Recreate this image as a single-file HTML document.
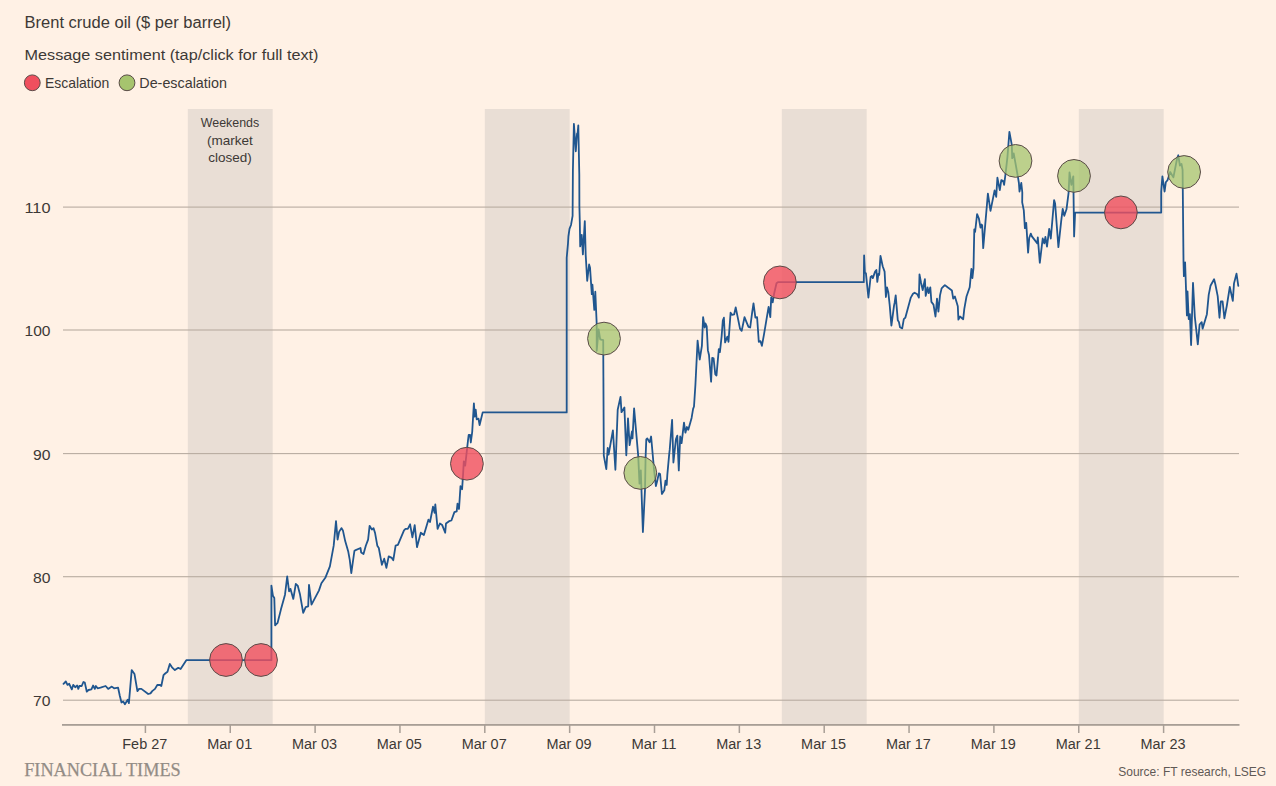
<!DOCTYPE html>
<html><head><meta charset="utf-8"><title>Brent crude oil</title>
<style>
html,body{margin:0;padding:0;background:#fff1e5;}
body{width:1276px;height:786px;overflow:hidden;position:relative;font-family:'Liberation Sans', sans-serif;}
svg{position:absolute;left:0;top:0;display:block;}
</style></head>
<body>
<svg width="1276" height="786" viewBox="0 0 1276 786" font-family="'Liberation Sans', sans-serif">
<rect x="0" y="0" width="1276" height="786" fill="#fff1e5"/>
<text x="24.5" y="27.8" font-size="16" fill="#3d3936" textLength="206.5" lengthAdjust="spacingAndGlyphs">Brent crude oil ($ per barrel)</text>
<text x="24.5" y="60.2" font-size="15.5" fill="#3d3936" textLength="294" lengthAdjust="spacingAndGlyphs">Message sentiment (tap/click for full text)</text>
<circle cx="32.3" cy="82.8" r="7.9" fill="#f04f5e" stroke="#5a4b48" stroke-width="1"/>
<text x="44.9" y="88.4" font-size="14.5" fill="#3d3936" textLength="64.5" lengthAdjust="spacingAndGlyphs">Escalation</text>
<circle cx="127" cy="82.8" r="7.9" fill="#a6c46e" stroke="#5a4b48" stroke-width="1"/>
<text x="139.3" y="88.4" font-size="14.5" fill="#3d3936" textLength="87.6" lengthAdjust="spacingAndGlyphs">De-escalation</text>
<rect x="187.8" y="109" width="84.85" height="615" fill="#e9ded5"/><rect x="484.8" y="109" width="84.85" height="615" fill="#e9ded5"/><rect x="781.8" y="109" width="84.85" height="615" fill="#e9ded5"/><rect x="1078.8" y="109" width="84.85" height="615" fill="#e9ded5"/>
<text x="230" y="127" text-anchor="middle" font-size="13.5" fill="#3d3936" textLength="58.5" lengthAdjust="spacingAndGlyphs">Weekends</text>
<text x="230" y="145" text-anchor="middle" font-size="13.5" fill="#3d3936">(market</text>
<text x="230" y="162.2" text-anchor="middle" font-size="13.5" fill="#3d3936">closed)</text>
<rect x="63" y="699.65" width="1176" height="1.1" fill="#b8aca1"/><rect x="63" y="576.15" width="1176" height="1.1" fill="#b8aca1"/><rect x="63" y="453.05" width="1176" height="1.1" fill="#b8aca1"/><rect x="63" y="329.45" width="1176" height="1.1" fill="#b8aca1"/><rect x="63" y="206.55" width="1176" height="1.1" fill="#b8aca1"/>
<text x="50.5" y="706.1" text-anchor="end" font-size="15.5" fill="#3d3936" textLength="17.5" lengthAdjust="spacingAndGlyphs">70</text><text x="50.5" y="582.6" text-anchor="end" font-size="15.5" fill="#3d3936" textLength="17.5" lengthAdjust="spacingAndGlyphs">80</text><text x="50.5" y="459.5" text-anchor="end" font-size="15.5" fill="#3d3936" textLength="17.5" lengthAdjust="spacingAndGlyphs">90</text><text x="50.5" y="335.9" text-anchor="end" font-size="15.5" fill="#3d3936" textLength="26" lengthAdjust="spacingAndGlyphs">100</text><text x="50.5" y="213.0" text-anchor="end" font-size="15.5" fill="#3d3936" textLength="26" lengthAdjust="spacingAndGlyphs">110</text>
<rect x="62" y="724" width="1177.5" height="1.8" fill="#a89e96"/>
<rect x="144.65" y="725" width="1.5" height="8" fill="#a89e96"/><rect x="229.50" y="725" width="1.5" height="8" fill="#a89e96"/><rect x="314.35" y="725" width="1.5" height="8" fill="#a89e96"/><rect x="399.20" y="725" width="1.5" height="8" fill="#a89e96"/><rect x="484.05" y="725" width="1.5" height="8" fill="#a89e96"/><rect x="568.90" y="725" width="1.5" height="8" fill="#a89e96"/><rect x="653.75" y="725" width="1.5" height="8" fill="#a89e96"/><rect x="738.60" y="725" width="1.5" height="8" fill="#a89e96"/><rect x="823.45" y="725" width="1.5" height="8" fill="#a89e96"/><rect x="908.30" y="725" width="1.5" height="8" fill="#a89e96"/><rect x="993.15" y="725" width="1.5" height="8" fill="#a89e96"/><rect x="1078.00" y="725" width="1.5" height="8" fill="#a89e96"/><rect x="1162.85" y="725" width="1.5" height="8" fill="#a89e96"/>
<text x="144.8" y="749" text-anchor="middle" font-size="15.5" fill="#3d3936" textLength="45" lengthAdjust="spacingAndGlyphs">Feb 27</text><text x="229.7" y="749" text-anchor="middle" font-size="15.5" fill="#3d3936" textLength="45" lengthAdjust="spacingAndGlyphs">Mar 01</text><text x="314.5" y="749" text-anchor="middle" font-size="15.5" fill="#3d3936" textLength="45" lengthAdjust="spacingAndGlyphs">Mar 03</text><text x="399.3" y="749" text-anchor="middle" font-size="15.5" fill="#3d3936" textLength="45" lengthAdjust="spacingAndGlyphs">Mar 05</text><text x="484.2" y="749" text-anchor="middle" font-size="15.5" fill="#3d3936" textLength="45" lengthAdjust="spacingAndGlyphs">Mar 07</text><text x="569.0" y="749" text-anchor="middle" font-size="15.5" fill="#3d3936" textLength="45" lengthAdjust="spacingAndGlyphs">Mar 09</text><text x="653.9" y="749" text-anchor="middle" font-size="15.5" fill="#3d3936" textLength="45" lengthAdjust="spacingAndGlyphs">Mar 11</text><text x="738.7" y="749" text-anchor="middle" font-size="15.5" fill="#3d3936" textLength="45" lengthAdjust="spacingAndGlyphs">Mar 13</text><text x="823.6" y="749" text-anchor="middle" font-size="15.5" fill="#3d3936" textLength="45" lengthAdjust="spacingAndGlyphs">Mar 15</text><text x="908.4" y="749" text-anchor="middle" font-size="15.5" fill="#3d3936" textLength="45" lengthAdjust="spacingAndGlyphs">Mar 17</text><text x="993.3" y="749" text-anchor="middle" font-size="15.5" fill="#3d3936" textLength="45" lengthAdjust="spacingAndGlyphs">Mar 19</text><text x="1078.2" y="749" text-anchor="middle" font-size="15.5" fill="#3d3936" textLength="45" lengthAdjust="spacingAndGlyphs">Mar 21</text><text x="1163.0" y="749" text-anchor="middle" font-size="15.5" fill="#3d3936" textLength="45" lengthAdjust="spacingAndGlyphs">Mar 23</text>
<path d="M63.5 683.8 L65.8 681.5 L67.5 684.9 L69.2 683.8 L71.8 689.4 L73.2 684.9 L75.2 687.2 L77.2 685.5 L78.3 688.9 L79.4 686 L81.7 686 L83.4 682 L84.8 682.6 L86.8 691.7 L88.5 690 L91.4 689.4 L93.1 685.5 L94.8 688.9 L95.9 686 L97.6 688.3 L100.5 687.7 L105.6 686 L108.2 688.9 L111.8 686.6 L114.1 688.3 L118.1 687.7 L119.8 695.7 L121.5 702.5 L123.2 701.4 L124.9 704.2 L127.7 699.7 L128.9 703.1 L131.7 670.1 L134.5 674.1 L137.4 691.1 L139.1 688.9 L141.4 688.9 L148.2 694 L150.5 693.4 L152.2 691.1 L155 688.9 L157.3 685 L160.1 685 L161.3 686 L163.5 675.2 L165.2 673.5 L167.5 671.8 L169.8 663.9 L172 667.3 L174.9 670.1 L178.3 667.8 L180.6 669 L186.3 660.2 L271.4 660.2 L271.4 585.6 L272.9 595.6 L274.3 598 L275.1 625.3 L277.6 622.8 L280.9 609.6 L285 594.7 L287.2 576.5 L289.1 591.4 L290.5 588.9 L293.3 598.9 L295.8 584 L297.7 585.6 L299.9 593.9 L303.2 612.9 L305.7 607.1 L308.2 606.3 L309 584.8 L311.5 604.6 L318.9 590.6 L321.4 583.2 L325.3 577.8 L328.4 570.1 L329.9 566.3 L333.7 545.7 L336 521.2 L337.6 539.6 L339.1 531.9 L341.4 528.1 L342.9 530.4 L345.2 541.1 L348.3 551.8 L349.8 560.2 L351.3 573.2 L354.4 551 L355.1 550.3 L360.5 548 L361.2 552.6 L363.5 554.1 L365.8 545.7 L368.1 539.6 L369.6 525.8 L371.9 529.6 L373.5 528.1 L375 532.7 L377.3 545.7 L378.8 548 L381.9 564.8 L384.2 558.7 L386.4 567.8 L388.7 556.4 L391.8 557.9 L393.3 560.2 L395.6 545.7 L397.9 544.9 L404 530.4 L405.5 528.9 L407.8 528.9 L410.1 524.3 L412.4 537.3 L414.7 525.1 L417 547.2 L420.8 532.7 L423.9 535 L428.4 519.7 L430 522 L433 506.7 L434.6 512.8 L435.3 504.4 L437.6 528.9 L439.9 523.5 L442.2 525.1 L445.2 532.7 L446 523.5 L449.1 521.2 L451.4 520.5 L454.4 512.1 L456.7 511.3 L457.5 503.7 L459 509 L460.5 486.1 L462.1 489.2 L463.1 474 L463.8 461.4 L465.2 465.6 L466.6 453 L468 440.4 L468.7 434.8 L470.1 434.8 L470.8 442.5 L472.2 432 L473.9 403.3 L474.7 416.6 L475.7 409.6 L476.7 419.4 L478.5 418.7 L479.6 425 L482.7 412.4 L566.7 412.4 L566.7 257.8 L568 243.3 L568.4 236.5 L569.5 228.8 L571 225 L572.6 215.8 L572.9 170 L573.9 123.8 L575.8 151.3 L576.8 136.4 L577.1 133.3 L577.3 137 L578.3 125.3 L579.3 175 L579.4 206.6 L579.8 221.9 L580.2 246.4 L581.7 234.9 L582.9 254.4 L584.8 221.1 L585.7 255 L587.2 280.8 L589.1 264.5 L590 267.4 L591.8 294.1 L592.4 284.6 L594.3 309.9 L595.3 291.7 L596.7 323.7 L596.7 350.8 L598.6 329.5 L600.2 339.4 L603.2 340.1 L603.4 378 L603.8 455.6 L606.3 469.2 L607.7 448 L608.6 454.7 L612.9 430.3 L615.4 469.8 L617.7 409.8 L620.5 396.9 L621.5 412.2 L624.4 407.4 L626.3 455.3 L628 418.4 L629.6 445.1 L632 431.3 L632.5 438.4 L634.1 408.4 L638.2 455.6 L639.5 483.7 L640.8 470.4 L642.9 532 L645 489.7 L645.6 457.1 L646.3 439.4 L647.3 438.4 L649.6 442.3 L651.1 436.5 L654 469.2 L655.9 486.1 L657.1 481.3 L658.9 473.4 L660.1 474 L661.9 494 L664.3 490.3 L665.5 480.6 L666.7 484.9 L667.3 475.2 L669.2 454.1 L669.7 449.9 L672.1 419.8 L673.4 462.5 L675.9 439.4 L677.3 435.6 L678.8 470.4 L680.2 436.5 L681.6 443.2 L684 422.7 L685.4 432.7 L686.9 427 L688.3 429.8 L691.6 417.9 L693.1 408.9 L694 406.5 L695.4 385 L697.6 340.6 L699.7 359.5 L701.9 345.8 L703.1 317.2 L704.7 327.5 L705.4 323.5 L706.7 326.3 L707.9 350.4 L709 355 L711.1 381.8 L712.2 357.8 L713.6 358.4 L715.3 374.4 L716.5 375.5 L718.8 349.2 L719.9 352.1 L721.6 336.6 L722.8 320.6 L723.9 317.7 L725.1 342.4 L727.4 336.6 L728.5 341.8 L730.6 312.6 L731.9 314.9 L734.2 314.3 L735.7 307.4 L740 328.6 L741.7 330.9 L744.5 317.2 L746.8 322.9 L748.5 326.9 L750.2 327.5 L752 313.7 L753.5 303.4 L755.4 317.7 L757.1 317.2 L758.8 341.8 L760.5 341.2 L761.9 345.8 L764 334.3 L766.3 320.6 L768.6 306.9 L770.3 317.2 L771.2 297.5 L772.7 302.3 L774.1 293.7 L776.5 283.2 L777.9 282.2 L863.8 282.2 L864.1 255.4 L864.9 272.7 L865.9 273.2 L868.4 297.6 L870.6 277 L871.9 276 L872.8 278.1 L875.1 271.6 L876.4 270 L877.3 281.9 L878.4 273.8 L879.2 274.9 L880.5 255.9 L882.7 266.2 L884.6 271.6 L885.9 297 L887 287.3 L888.3 292.2 L889.7 305.1 L891.4 325.7 L894.1 305.1 L894.6 303 L895.7 295.4 L897.8 320.3 L898.9 321.9 L900 327.3 L902.2 328.4 L903.8 319.2 L905.4 317.6 L910.8 297.6 L913 293.8 L914.6 292.7 L917.3 294.3 L918.9 297.6 L919.5 274.3 L921.1 283 L922.7 290 L924.9 279.2 L925.7 295.9 L927.6 287.3 L928.6 293.2 L930.3 287.3 L931.4 301.9 L933.5 304.6 L935.5 316.5 L937 298.6 L938.4 311.6 L940 295.4 L941.6 288.4 L943.8 286.2 L944.9 285.1 L947.6 287.3 L951.9 290.5 L953.2 298.6 L954.9 296.5 L957.8 306.2 L958.4 319.7 L960 316.5 L963.2 319.2 L964.3 308.9 L966.5 296.5 L969.7 287.3 L971.4 268.9 L972.4 278.1 L973.5 268.2 L974.3 229.3 L975.1 232 L977.1 214.2 L978.9 218.5 L980.5 227.7 L981.6 224.5 L982.2 225.5 L983.2 248.2 L987.9 193.6 L990.5 210.9 L994.6 190.4 L996.2 196.9 L997.4 177.7 L999.8 190.1 L1001.3 180.1 L1003.2 181.1 L1004.1 184.9 L1005.6 173.4 L1007.5 156.3 L1009.4 131.9 L1011.8 144.8 L1012.2 158.2 L1013.7 153.4 L1018 177.3 L1018.9 183 L1019.5 191.5 L1021.3 183 L1022.3 192.5 L1022.2 202.3 L1023.8 210.4 L1024.9 228.2 L1026.2 222.8 L1028.1 252.6 L1029.2 238 L1030.8 233.6 L1031.9 236.4 L1037.3 243.4 L1037.8 237.4 L1039.8 262.8 L1042.7 238.5 L1044.3 243.4 L1045.4 236.9 L1047 246.6 L1049.2 228.8 L1050.8 238.5 L1054.1 200.1 L1055.1 203.4 L1058.4 247.2 L1061.1 221.8 L1062.7 208.8 L1064.3 215.8 L1066.5 209.3 L1068.6 192.6 L1069.5 172.5 L1071.4 184.9 L1073.3 176.3 L1074.1 236.4 L1075.1 212.6 L1161.2 212.6 L1161.2 191.5 L1162.4 176.4 L1164.6 191.5 L1165.8 182.3 L1167.5 180.2 L1170.2 172 L1173.4 177.4 L1177.2 158 L1178.3 155.3 L1179.9 165.5 L1181.5 163.9 L1182.6 169.9 L1183.5 261.9 L1183.9 276.1 L1185.1 262.3 L1186.9 315.4 L1187.5 291.3 L1188.7 319 L1189.9 314.2 L1191.1 345 L1193 282.8 L1194.8 316.6 L1196 327.5 L1197.8 344.4 L1199.6 324.5 L1201.7 322.1 L1202.6 328.7 L1206.9 314.2 L1208.7 294.9 L1210.5 285.8 L1214.1 279.2 L1215.3 284 L1217.7 296.1 L1219.5 317.8 L1220.8 301.5 L1222.6 301.5 L1224.4 318.4 L1226.8 305.8 L1229.8 287 L1232.8 300.9 L1234 283.4 L1236.5 273.7 L1238.3 285.8" fill="none" stroke="#20568f" stroke-width="1.8" stroke-linejoin="round" stroke-linecap="round"/>
<circle cx="226" cy="660" r="16.4" fill="#f04f5e" fill-opacity="0.8" stroke="#5a4b48" stroke-width="1"/><circle cx="261" cy="660" r="16.4" fill="#f04f5e" fill-opacity="0.8" stroke="#5a4b48" stroke-width="1"/><circle cx="466.9" cy="463.7" r="16.4" fill="#f04f5e" fill-opacity="0.8" stroke="#5a4b48" stroke-width="1"/><circle cx="779.9" cy="282.4" r="16.4" fill="#f04f5e" fill-opacity="0.8" stroke="#5a4b48" stroke-width="1"/><circle cx="1120.9" cy="212.4" r="16.4" fill="#f04f5e" fill-opacity="0.8" stroke="#5a4b48" stroke-width="1"/><circle cx="604" cy="338.6" r="16.4" fill="#a6c46e" fill-opacity="0.75" stroke="#5a4b48" stroke-width="1"/><circle cx="640.3" cy="472.9" r="16.4" fill="#a6c46e" fill-opacity="0.75" stroke="#5a4b48" stroke-width="1"/><circle cx="1015.5" cy="160.9" r="16.4" fill="#a6c46e" fill-opacity="0.75" stroke="#5a4b48" stroke-width="1"/><circle cx="1074" cy="175.9" r="16.4" fill="#a6c46e" fill-opacity="0.75" stroke="#5a4b48" stroke-width="1"/><circle cx="1184.1" cy="172" r="16.4" fill="#a6c46e" fill-opacity="0.75" stroke="#5a4b48" stroke-width="1"/>
<text x="24.2" y="776.1" font-family="'Liberation Serif', serif" font-size="19.2" fill="#938c85" stroke="#938c85" stroke-width="0.25" textLength="156.5" lengthAdjust="spacingAndGlyphs">FINANCIAL TIMES</text>
<text x="1266.2" y="776.2" text-anchor="end" font-size="13.5" fill="#5f5955" textLength="148" lengthAdjust="spacingAndGlyphs">Source: FT research, LSEG</text>
</svg>
</body></html>
